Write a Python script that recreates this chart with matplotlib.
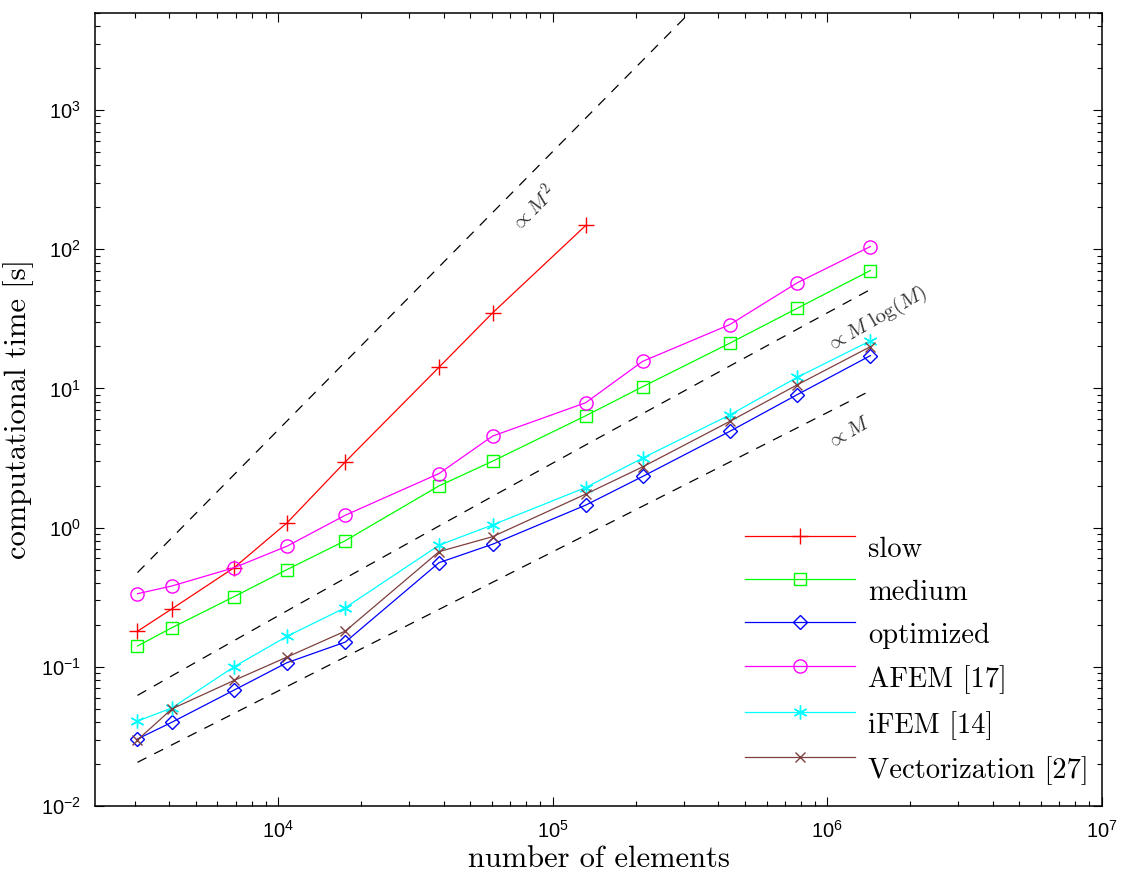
import numpy as np
import matplotlib

matplotlib.use("Agg")
import matplotlib.pyplot as plt
import matplotlib.transforms as mtransforms

plt.rcParams["font.family"] = "Liberation Sans"
plt.rcParams["mathtext.fontset"] = "custom"
plt.rcParams["mathtext.rm"] = "Liberation Sans"
plt.rcParams["mathtext.it"] = "Liberation Sans:italic"
plt.rcParams["mathtext.sf"] = "Liberation Sans"

# number of elements
elements = [3070, 4100, 6900, 10750, 17550, 38500, 60350, 131700, 212300, 440500, 775600, 1434000]

# computational time [s]
t_slow = [0.180, 0.261, 0.515, 1.08, 2.97, 14.2, 34.9, 148.0]
t_medium = [0.141, 0.191, 0.319, 0.499, 0.806, 1.995, 3.0, 6.36, 10.28, 21.1, 37.6, 70.3]
t_optimized = [0.0303, 0.040, 0.068, 0.107, 0.1506, 0.56, 0.76, 1.45, 2.33, 4.91, 9.01, 17.2]
t_afem = [0.335, 0.381, 0.515, 0.735, 1.228, 2.446, 4.546, 7.89, 15.64, 28.7, 57.3, 104.5]
t_ifem = [0.0407, 0.0507, 0.100, 0.1655, 0.266, 0.747, 1.046, 1.94, 3.16, 6.44, 12.0, 22.0]
t_vect = [0.0298, 0.0499, 0.0798, 0.1174, 0.1806, 0.672, 0.861, 1.74, 2.73, 5.79, 10.6, 19.95]

labels = ["slow", "medium", "optimized", "AFEM [17]", "iFEM [14]", "Vectorization [27]"]

# reference slopes: value at the first mesh
c_m2 = 0.475
c_mlogm = 0.0623
c_m = 0.0206

fig = plt.figure(figsize=(11.22, 8.75), dpi=100)
ax = fig.add_axes([95 / 1122, 69 / 875, 1007 / 1122, 793.3 / 875])
ax.set_xscale("log")
ax.set_yscale("log")

M = np.array(elements, dtype=float)
M0 = M[0]
dash = dict(color="black", linewidth=0.9, dashes=(8, 7))
ax.plot(M, c_m2 * (M / M0) ** 2, **dash)
ax.plot(M, c_mlogm * (M / M0) * np.log(M) / np.log(M0), **dash)
ax.plot(M, c_m * (M / M0), **dash)

lw = 0.9
ax.plot(elements[: len(t_slow)], t_slow, color="#ff0000", lw=lw, marker="+", ms=11, mew=1.0, label=labels[0])
ax.plot(elements, t_medium, color="#00ff00", lw=lw, marker="s", ms=8, mfc="none", mew=1.0, label=labels[1])
ax.plot(elements, t_optimized, color="#0000ff", lw=lw, marker="D", ms=6.8, mfc="none", mew=1.0, label=labels[2])
ax.plot(elements, t_afem, color="#ff00ff", lw=lw, marker="o", ms=9.5, mfc="none", mew=1.0, label=labels[3])
ax.plot(elements, t_ifem, color="#00ffff", lw=lw, marker=(6, 2, 0), ms=10, mew=1.0, label=labels[4])
ax.plot(elements, t_vect, color="#7f3f3f", lw=lw, marker="x", ms=7.5, mew=1.0, label=labels[5])

ann = dict(ha="center", va="center", rotation_mode="anchor", color="#333333",
           fontsize=15, math_fontfamily="cm")
ax.text(84900, 194, r"$\propto M^2$", rotation=45, **ann)
ax.text(1.507e6, 31.5, r"$\propto M\ \log(M)$", rotation=30, **ann)
ax.text(1.193e6, 4.79, r"$\propto M$", rotation=30, **ann)

ax.set_xlim(2150, 1e7)
ax.set_ylim(1e-2, 5000)

for side in ax.spines.values():
    side.set_linewidth(1.1)
ax.tick_params(which="both", direction="in", top=True, right=True, width=0.8)
ax.tick_params(which="major", length=6.5, labelsize=14.5, pad=10)
ax.tick_params(which="minor", length=3.3)
ax.yaxis.set_major_locator(matplotlib.ticker.LogLocator(base=10, numticks=20))
ax.yaxis.set_minor_locator(matplotlib.ticker.LogLocator(base=10, subs=np.arange(2, 10), numticks=20))
ax.yaxis.set_minor_formatter(matplotlib.ticker.NullFormatter())
ax.xaxis.set_minor_formatter(matplotlib.ticker.NullFormatter())

ax.set_xlabel("number of elements", fontfamily="cmr10", fontsize=22, labelpad=3)
ax.set_ylabel("computational time [s]", fontfamily="cmr10", fontsize=22, labelpad=5)

leg = ax.legend(loc="upper left", bbox_to_anchor=(745 / 1122, (875 - 526) / 875),
                bbox_transform=fig.transFigure, frameon=False, borderpad=0,
                prop={"family": "cmr10", "size": 20.5}, handlelength=3.86,
                handletextpad=0.46, labelspacing=0.58, borderaxespad=0)
shift = mtransforms.ScaledTranslation(0, -11 / 100, fig.dpi_scale_trans)
for t in leg.get_texts():
    t.set_transform(t.get_transform() + shift)

fig.savefig("out.png", dpi=100)
plt.close(fig)
